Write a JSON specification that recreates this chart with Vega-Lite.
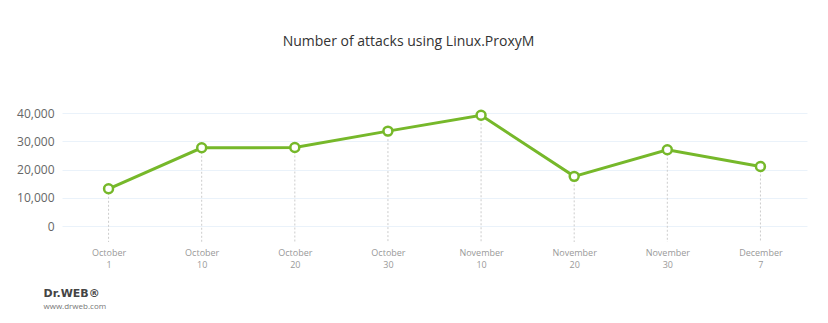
{
  "$schema": "https://vega.github.io/schema/vega-lite/v6.json",
  "width": 745,
  "height": 129,
  "autosize": {"type": "none"},
  "padding": {"left": 62, "top": 113, "right": 21, "bottom": 81},
  "background": "white",
  "title": {
    "text": "Number of attacks using Linux.ProxyM",
    "font": "Open Sans",
    "fontSize": 14,
    "fontWeight": "normal",
    "color": "#333333",
    "anchor": "middle",
    "dx": -26,
    "offset": 57
  },
  "config": {"view": {"stroke": null}},
  "data": {
    "values": [
      {"date": "October 1", "attacks": 13200},
      {"date": "October 10", "attacks": 27700},
      {"date": "October 20", "attacks": 27800},
      {"date": "October 30", "attacks": 33600},
      {"date": "November 10", "attacks": 39200},
      {"date": "November 20", "attacks": 17600},
      {"date": "November 30", "attacks": 27000},
      {"date": "December 7", "attacks": 21100}
    ]
  },
  "encoding": {
    "x": {
      "field": "date",
      "type": "nominal",
      "sort": null,
      "scale": {"type": "point", "padding": 0.5},
      "axis": {
        "title": "Dr.WEB®",
        "titleFont": "DejaVu Sans",
        "titleFontWeight": "bold",
        "titleFontSize": 11,
        "titleColor": "#444444",
        "titleAnchor": "start",
        "titleAlign": "left",
        "titleBaseline": "middle",
        "titleX": -19,
        "titleY": 51,
        "labelExpr": "split(datum.value, ' ')",
        "labelAngle": 0,
        "labelFont": "Open Sans",
        "labelFontSize": 9,
        "labelColor": "#999999",
        "labelPadding": 6,
        "labelLineHeight": 12,
        "domain": false,
        "ticks": false,
        "grid": false
      }
    },
    "y": {
      "field": "attacks",
      "type": "quantitative",
      "scale": {"domain": [-5600, 40000], "nice": false, "zero": false},
      "axis": {
        "values": [0, 10000, 20000, 30000, 40000],
        "format": ",.0f",
        "title": "www.drweb.com",
        "titleAngle": 0,
        "titleFont": "Open Sans",
        "titleFontWeight": "normal",
        "titleFontSize": 8,
        "titleColor": "#777777",
        "titleAlign": "left",
        "titleBaseline": "middle",
        "titleX": -19,
        "titleY": 193,
        "labelFont": "Open Sans",
        "labelFontSize": 12,
        "labelColor": "#666666",
        "labelPadding": 8,
        "domain": false,
        "ticks": false,
        "grid": true,
        "gridColor": "#eaf2fa",
        "gridWidth": 1
      }
    }
  },
  "layer": [
    {
      "mark": {"type": "rule", "color": "#cccccc", "strokeDash": [2, 2], "strokeWidth": 1},
      "encoding": {
        "y2": {"datum": -5600}
      }
    },
    {
      "mark": {"type": "line", "color": "#76b82a", "strokeWidth": 3},
      "encoding": {}
    },
    {
      "mark": {"type": "point", "filled": true, "fill": "white", "stroke": "#76b82a", "strokeWidth": 2.5, "size": 80, "opacity": 1},
      "encoding": {}
    }
  ]
}
